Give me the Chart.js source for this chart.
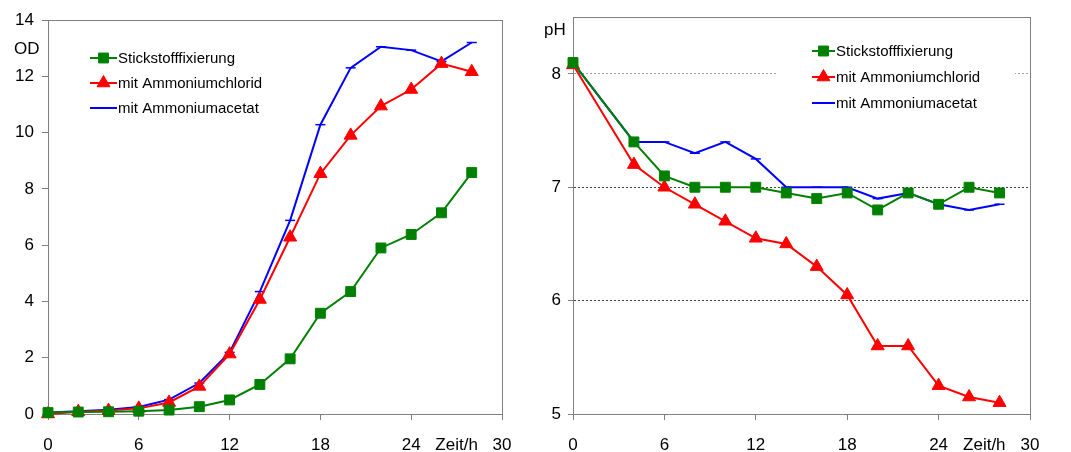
<!DOCTYPE html>
<html>
<head>
<meta charset="utf-8">
<script src="https://cdn.jsdelivr.net/npm/chart.js@4"></script>
<style>
  html, body { margin: 0; padding: 0; background: #fff; }
  #wrap { position: relative; width: 1071px; height: 452px; }
  .panel { position: absolute; top: 0; height: 452px; }
</style>
</head>
<body>
<div id="wrap">
  <div class="panel" style="left:0; width:535px;"><canvas id="odChart" width="535" height="452"></canvas></div>
  <div class="panel" style="left:535px; width:536px;"><canvas id="phChart" width="536" height="452"></canvas></div>
</div>
<script>
// ---- data ----
const seriesLabels = ['Stickstofffixierung', 'mit Ammoniumchlorid', 'mit Ammoniumacetat'];
const seriesColors = ['#008000', '#ff0000', '#0000ff'];

const odTimes   = [0, 2, 4, 6, 8, 10, 12, 14, 16, 18, 20, 22, 24, 26, 28];
const odStick   = [0.05, 0.07, 0.08, 0.1, 0.14, 0.26, 0.5, 1.05, 1.96, 3.58, 4.35, 5.9, 6.38, 7.15, 8.58];
const odChlorid = [0.0, 0.08, 0.12, 0.2, 0.41, 0.98, 2.13, 4.07, 6.28, 8.54, 9.9, 10.94, 11.53, 12.45, 12.16];
const odAcetat  = [0.05, 0.1, 0.15, 0.25, 0.51, 1.1, 2.19, 4.35, 6.88, 10.28, 12.3, 13.05, 12.93, 12.53, 13.2];

const phTimes   = [0, 4, 6, 8, 10, 12, 14, 16, 18, 20, 22, 24, 26, 28];
const phStick   = [8.1, 7.4, 7.1, 7.0, 7.0, 7.0, 6.95, 6.9, 6.95, 6.8, 6.95, 6.85, 7.0, 6.95];
const phChlorid = [8.08, 7.2, 7.0, 6.85, 6.7, 6.55, 6.5, 6.3, 6.05, 5.6, 5.6, 5.25, 5.15, 5.1];
const phAcetat  = [8.1, 7.4, 7.4, 7.3, 7.4, 7.25, 7.0, 7.0, 7.0, 6.9, 6.95, 6.85, 6.8, 6.85];

const xTicks = [0, 6, 12, 18, 24, 27, 30]; // 27 carries the axis name
const xTickNames = { 27: 'Zeit/h' };
const odTicks = [0, 2, 4, 6, 8, 10, 12, 14];
const phTicks = [5, 6, 7, 8];

const FONT = "'Liberation Sans', Arial, sans-serif";
const AXIS = '#808080';

function points(xs, ys) {
  return xs.map((x, i) => ({ x: x, y: ys[i] }));
}

function makeDatasets(xs, a, b, c) {
  const styles = [
    { pointStyle: 'rect', pointRadius: 7, pointBorderWidth: 1 },
    { pointStyle: 'triangle', pointRadius: 7.5, pointBorderWidth: 1 },
    { pointStyle: 'line', pointRadius: 5, pointBorderWidth: 1.5 }
  ];
  return [a, b, c].map((ys, i) => Object.assign({
    label: seriesLabels[i],
    data: points(xs, ys),
    borderColor: seriesColors[i],
    backgroundColor: seriesColors[i],
    pointBackgroundColor: seriesColors[i],
    pointBorderColor: seriesColors[i],
    borderWidth: 2,
    tension: 0,
    clip: false
  }, styles[i]));
}

// frame round the plot area
const framePlugin = {
  id: 'frame',
  beforeDatasetsDraw(chart) {
    const a = chart.chartArea, ctx = chart.ctx;
    ctx.save();
    ctx.strokeStyle = AXIS;
    ctx.lineWidth = 1;
    ctx.strokeRect(Math.round(a.left) + 0.5, Math.round(a.top) + 0.5,
      Math.round(a.right - a.left), Math.round(a.bottom - a.top));
    ctx.restore();
  }
};

// legend drawn inside the plot, plus the vertical axis name
const floatLegend = {
  id: 'floatLegend',
  afterDatasetsDraw(chart, args, opts) {
    const ctx = chart.ctx;
    ctx.save();
    if (opts.box) {
      ctx.fillStyle = '#fff';
      ctx.fillRect(opts.box[0], opts.box[1], opts.box[2], opts.box[3]);
    }
    ctx.font = '15px ' + FONT;
    ctx.textBaseline = 'middle';
    ctx.textAlign = 'left';
    chart.data.datasets.forEach((ds, i) => {
      const y = opts.y + i * opts.step;
      ctx.strokeStyle = ds.borderColor;
      ctx.lineWidth = 2;
      ctx.beginPath();
      ctx.moveTo(opts.x, y);
      ctx.lineTo(opts.x + opts.len, y);
      ctx.stroke();
      if (ds.pointStyle !== 'line') {
        ctx.fillStyle = ds.pointBackgroundColor;
        ctx.lineWidth = 1;
        Chart.helpers.drawPoint(ctx, { pointStyle: ds.pointStyle, radius: ds.pointRadius, rotation: 0, borderWidth: 1 },
          opts.x + opts.len / 2, y);
      }
      ctx.fillStyle = '#000';
      ctx.fillText(ds.label, opts.x + opts.len + 1, y + 1);
    });
    ctx.font = '17px ' + FONT;
    ctx.fillText(opts.title, opts.titleX, opts.titleY);
    ctx.restore();
  }
};

function xScale() {
  return {
    type: 'linear',
    min: 0,
    max: 30,
    afterBuildTicks: s => { s.ticks = xTicks.map(v => ({ value: v })); },
    afterFit: s => { s.height = 38; },
    ticks: {
      color: '#000',
      font: { family: FONT, size: 17 },
      padding: 15,
      maxRotation: 0,
      callback: v => xTickNames[v] || v
    },
    grid: {
      drawOnChartArea: false,
      tickLength: 6,
      tickColor: c => (c.tick && xTickNames[c.tick.value]) ? 'rgba(0,0,0,0)' : AXIS
    },
    border: { color: AXIS, width: 1 }
  };
}

function baseOptions() {
  return {
    responsive: false,
    animation: false,
    events: [],
    plugins: { legend: { display: false }, tooltip: { enabled: false } }
  };
}

// left panel: optical density
const odOpts = baseOptions();
odOpts.layout = { padding: { left: 0, top: 20, right: 33, bottom: 0 } };
odOpts.plugins.floatLegend = { x: 90, y: 58, step: 25, len: 27, title: 'OD', titleX: 14, titleY: 49 };
odOpts.scales = {
  x: xScale(),
  y: {
    type: 'linear',
    min: 0,
    max: 14,
    afterBuildTicks: s => { s.ticks = odTicks.map(v => ({ value: v })); },
    afterFit: s => { s.width = 48; },
    ticks: { color: '#000', font: { family: FONT, size: 17 }, padding: 8 },
    grid: { drawOnChartArea: false, tickLength: 6, tickColor: AXIS },
    border: { color: AXIS, width: 1 }
  }
};

new Chart(document.getElementById('odChart'), {
  type: 'line',
  data: { datasets: makeDatasets(odTimes, odStick, odChlorid, odAcetat) },
  options: odOpts,
  plugins: [framePlugin, floatLegend]
});

// right panel: pH
const phOpts = baseOptions();
phOpts.layout = { padding: { left: 0, top: 17, right: 41, bottom: 0 } };
phOpts.plugins.floatLegend = { x: 277, y: 51, step: 26, len: 23, box: [243, 36, 237, 80],
  title: 'pH', titleX: 9, titleY: 30 };
phOpts.scales = {
  x: xScale(),
  y: {
    type: 'linear',
    min: 5,
    max: 8.5,
    afterBuildTicks: s => { s.ticks = phTicks.map(v => ({ value: v })); },
    afterFit: s => { s.width = 38; },
    ticks: { color: '#000', font: { family: FONT, size: 17 }, padding: 7 },
    grid: {
      drawOnChartArea: true,
      tickLength: 5,
      tickColor: AXIS,
      color: c => c.tick.value === 5 ? 'rgba(0,0,0,0)' : (c.tick.value === 8 ? '#a0a0a0' : '#404040')
    },
    border: { color: AXIS, width: 1, dash: [2, 2] }
  }
};

new Chart(document.getElementById('phChart'), {
  type: 'line',
  data: { datasets: makeDatasets(phTimes, phStick, phChlorid, phAcetat) },
  options: phOpts,
  plugins: [framePlugin, floatLegend]
});
</script>
</body>
</html>
